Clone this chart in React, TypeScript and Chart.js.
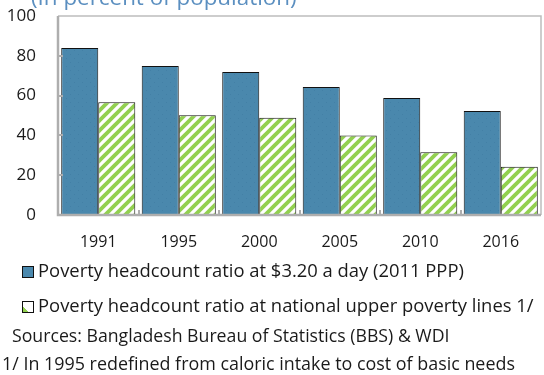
import React, { useEffect, useRef } from "react";
import { Chart, registerables } from "chart.js";

Chart.register(...registerables);

// Survey years and poverty headcount ratios (% of population)
const years = ["1991", "1995", "2000", "2005", "2010", "2016"];
const ppp320 = [83.9, 74.9, 71.9, 64.3, 58.8, 52.3];
const nationalUpper = [56.7, 50.1, 48.9, 40.0, 31.5, 24.3];
const yTickValues = [0, 20, 40, 60, 80, 100];

const seriesNames = [
  "Poverty headcount ratio at $3.20 a day (2011 PPP)",
  "Poverty headcount ratio at national upper poverty lines 1/",
];

const BLUE = "#4a88ad";
const GREEN = "#92d050";
const AXIS = "#aeaeae";
const FONT = "'Open Sans', 'Noto Sans', sans-serif";

const CANVAS_H = 262;
const PLOT_BOTTOM = 215;

function makeStripePattern(): CanvasPattern | string {
  const c = document.createElement("canvas");
  c.width = 10;
  c.height = 10;
  const g = c.getContext("2d");
  if (!g) return GREEN;
  g.fillStyle = "#ffffff";
  g.fillRect(0, 0, 10, 10);
  g.strokeStyle = GREEN;
  g.lineWidth = 3.8;
  g.lineCap = "square";
  const lines = [
    [-5, 5, 5, -5],
    [0, 10, 10, 0],
    [5, 15, 15, 5],
  ];
  for (const [x0, y0, x1, y1] of lines) {
    g.beginPath();
    g.moveTo(x0, y0);
    g.lineTo(x1, y1);
    g.stroke();
  }
  const p = g.createPattern(c, "repeat");
  return p || GREEN;
}

function makeDotPattern(): CanvasPattern | string {
  const c = document.createElement("canvas");
  c.width = 8;
  c.height = 8;
  const g = c.getContext("2d");
  if (!g) return BLUE;
  g.fillStyle = BLUE;
  g.fillRect(0, 0, 8, 8);
  g.fillStyle = "#4380a6";
  g.fillRect(2, 2, 1, 1);
  g.fillRect(6, 6, 1, 1);
  const p = g.createPattern(c, "repeat");
  return p || BLUE;
}

// Plot frame with inward tick marks on both axes
const framePlugin = {
  id: "frame",
  afterDatasetsDraw(chart: any) {
    const { ctx, chartArea: a, scales } = chart;
    const x = scales.x;
    const y = scales.y;
    ctx.save();
    ctx.strokeStyle = "#bdbdbd";
    ctx.lineWidth = 1.5;
    ctx.beginPath();
    ctx.moveTo(a.left, a.top);
    ctx.lineTo(a.right, a.top);
    ctx.lineTo(a.right, a.bottom);
    ctx.stroke();

    ctx.strokeStyle = AXIS;
    ctx.lineWidth = 2;
    for (const v of yTickValues) {
      if (v === 0 || v === 100) continue;
      const py = Math.round(y.getPixelForValue(v));
      ctx.beginPath();
      ctx.moveTo(a.left, py);
      ctx.lineTo(a.left + 5, py);
      ctx.stroke();
    }
    for (let i = 0; i < years.length - 1; i++) {
      const px = Math.round((x.getPixelForValue(i) + x.getPixelForValue(i + 1)) / 2);
      ctx.beginPath();
      ctx.moveTo(px, a.bottom);
      ctx.lineTo(px, a.bottom - 5);
      ctx.stroke();
    }

    ctx.lineWidth = 2.5;
    ctx.beginPath();
    ctx.moveTo(a.left, a.top);
    ctx.lineTo(a.left, a.bottom);
    ctx.lineTo(a.right, a.bottom);
    ctx.stroke();
    ctx.restore();
  },
};

function PovertyChart() {
  const ref = useRef<HTMLCanvasElement | null>(null);

  useEffect(() => {
    if (!ref.current) return;
    const chart = new Chart(ref.current, {
      type: "bar",
      data: {
        labels: years,
        datasets: [
          {
            label: seriesNames[0],
            data: ppp320,
            backgroundColor: makeDotPattern() as any,
            borderColor: "#111111",
            borderWidth: 1,
            borderSkipped: "bottom",
            barPercentage: 1,
            categoryPercentage: 0.92,
          },
          {
            label: seriesNames[1],
            data: nationalUpper,
            backgroundColor: makeStripePattern() as any,
            borderColor: "#111111",
            borderWidth: 1,
            borderSkipped: "bottom",
            barPercentage: 1,
            categoryPercentage: 0.92,
          },
        ],
      },
      options: {
        animation: false,
        responsive: false,
        maintainAspectRatio: false,
        layout: { padding: { top: 16, right: 3, left: 0, bottom: 0 } },
        plugins: {
          legend: { display: false },
          tooltip: { enabled: false },
          title: { display: false },
        },
        scales: {
          x: {
            grid: { display: false, drawTicks: false },
            border: { display: false },
            ticks: {
              color: "#1a1a1a",
              font: { family: FONT, size: 16 },
              padding: 18,
            },
            afterFit(scale: any) {
              scale.height = CANVAS_H - PLOT_BOTTOM;
            },
          },
          y: {
            min: 0,
            max: 100,
            afterBuildTicks(scale: any) {
              scale.ticks = yTickValues.map((v) => ({ value: v }));
            },
            grid: { display: false, drawTicks: false },
            border: { display: false },
            ticks: {
              color: "#1a1a1a",
              font: { family: FONT, size: 17 },
              padding: 22,
            },
            afterFit(scale: any) {
              scale.width = 58;
              scale.paddingTop = 0;
            },
          },
        },
      },
      plugins: [framePlugin],
    });
    return () => chart.destroy();
  }, []);

  return <canvas ref={ref} width={544} height={CANVAS_H} style={{ display: "block" }} />;
}

const legendBoxBase: React.CSSProperties = {
  display: "inline-block",
  width: 12,
  height: 12,
  border: "1px solid #111",
  boxSizing: "border-box",
  marginRight: 4,
  verticalAlign: "-1px",
};

export default function App() {
  useEffect(() => {
    document.body.style.margin = "0";
  }, []);

  return (
    <div
      style={{
        position: "relative",
        width: 544,
        height: 375,
        overflow: "hidden",
        background: "#ffffff",
        fontFamily: FONT,
        color: "#1a1a1a",
      }}
    >
      <PovertyChart />
      <div
        style={{
          position: "absolute",
          left: 31,
          top: -19,
          fontSize: 22.4,
          color: "#5b8fc0",
          whiteSpace: "nowrap",
        }}
      >
        (In percent of population)
      </div>
      <div style={{ position: "absolute", left: 22, top: 257, fontSize: 18.4, whiteSpace: "nowrap" }}>
        <span style={{ ...legendBoxBase, background: BLUE }} />
        {seriesNames[0]}
      </div>
      <div style={{ position: "absolute", left: 22, top: 292, fontSize: 18.4, whiteSpace: "nowrap" }}>
        <span
          style={{
            ...legendBoxBase,
            background: `linear-gradient(45deg, ${GREEN} 28%, #ffffff 28%)`,
          }}
        />
        {seriesNames[1]}
      </div>
      <div style={{ position: "absolute", left: 12, top: 323, fontSize: 17.7, whiteSpace: "nowrap" }}>
        Sources: Bangladesh Bureau of Statistics (BBS) &amp; WDI
      </div>
      <div style={{ position: "absolute", left: 2, top: 351, fontSize: 17.9, whiteSpace: "nowrap" }}>
        1/ In 1995 redefined from caloric intake to cost of basic needs
      </div>
    </div>
  );
}
